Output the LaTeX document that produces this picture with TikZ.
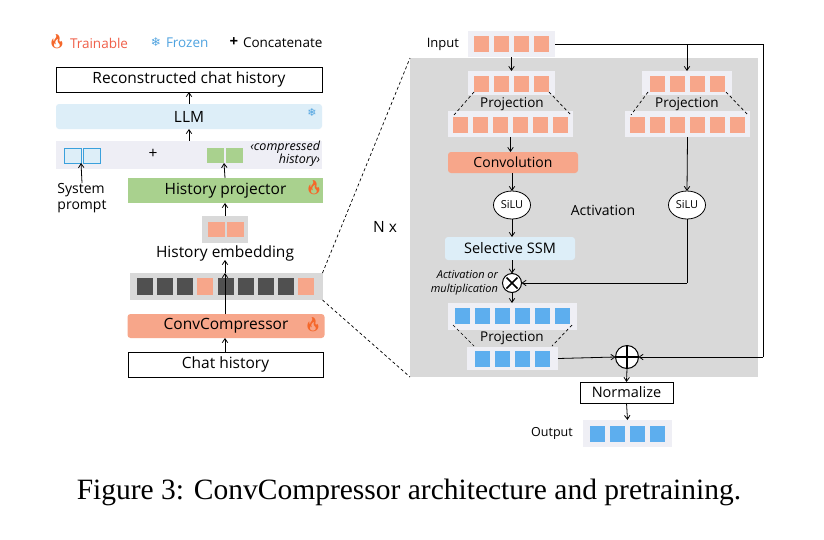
\documentclass[tikz,border=0pt]{standalone}
\usepackage{fontspec}
\setmainfont{Open Sans}
\newfontfamily\capfont{Liberation Serif}
\newfontfamily\emojifont{Noto Emoji}
\newfontfamily\symfont{DejaVu Sans}
\usetikzlibrary{arrows.meta,calc,shapes.geometric}
\definecolor{salmon}{HTML}{F7A68A}
\definecolor{lblue}{HTML}{DDEEF8}
\definecolor{band}{HTML}{EEEEF5}
\definecolor{pgreen}{HTML}{A9D18E}
\definecolor{sblue}{HTML}{5DAEEE}
\definecolor{oblue}{HTML}{3AA0DC}
\definecolor{boxgray}{HTML}{D9D9D9}
\definecolor{rowbg}{HTML}{EFEFF5}
\definecolor{dark}{HTML}{505050}
\definecolor{fire}{HTML}{F5672A}
\definecolor{trainred}{HTML}{F0604A}
\definecolor{frozblue}{HTML}{4FA3E0}
\newcommand{\flameicon}{{\emojifont\color{fire}\char"1F525}}
\newcommand{\snowicon}{{\symfont\color{frozblue}\char"2744}}
\begin{document}
\begin{tikzpicture}[x=1pt,y=-1pt,
  every node/.style={inner sep=0pt,outer sep=0pt},
  arr/.style={-{Straight Barb[length=4pt,width=5.5pt]},line width=0.8pt},
  ln/.style={line width=0.8pt},
  dsh/.style={dashed,line width=0.7pt,dash pattern=on 3pt off 2.5pt},
  lbl/.style={font=\fontsize{15.5}{17}\selectfont},
  slbl/.style={font=\fontsize{13.5}{15}\selectfont},
  wbox/.style={draw,line width=0.8pt,fill=white},
  rowbox/.style={fill=rowbg},
  sq/.style={minimum width=15pt,minimum height=16pt},
  icon/.style={font=\fontsize{14}{15}\selectfont}
]
\useasboundingbox (0,0) rectangle (824,539);
\fill[white] (0,0) rectangle (824,539);

% ---------------- Legend ----------------
\node[icon] (flameL) at (57,42) {\flameicon};
\node[anchor=west,font=\fontsize{13.5}{15}\selectfont,text=trainred] (train) at (70,43) {Trainable};
\node[icon,font=\fontsize{12}{13}\selectfont] (snowL) at (156,42) {\snowicon};
\node[anchor=west,font=\fontsize{13.5}{15}\selectfont,text=frozblue] (froz) at (166,43) {Frozen};
\node[font=\fontsize{15}{15}\selectfont\bfseries] (plusL) at (234,42) {+};
\node[anchor=west,font=\fontsize{13.5}{15}\selectfont] (concat) at (243,43) {Concatenate};

% ---------------- Left column ----------------
\node[wbox,minimum width=266pt,minimum height=25pt,lbl] (recon) at (189,79.5) {Reconstructed chat history};
\node[fill=lblue,rounded corners=3pt,minimum width=266pt,minimum height=25pt,lbl] (llm) at (189,116.5) {LLM};
\node[font=\fontsize{11}{12}\selectfont] (snowLLM) at (312,112) {\snowicon};
\node[fill=band,minimum width=266pt,minimum height=28pt] (band) at (189,154.5) {};
\node[draw=oblue,fill=lblue,line width=0.9pt,minimum width=17pt,minimum height=15pt] (sp1) at (72.5,155.5) {};
\node[draw=oblue,fill=lblue,line width=0.9pt,minimum width=17pt,minimum height=15pt] (sp2) at (91.5,155.5) {};
\node[lbl] (plusC) at (153,154) {+};
\node[fill=pgreen,minimum width=17pt,minimum height=15pt] (gh1) at (215.5,155.5) {};
\node[fill=pgreen,minimum width=17pt,minimum height=15pt] (gh2) at (234.5,155.5) {};
\node[anchor=north east,align=right,font=\fontsize{12.5}{13}\selectfont\itshape] (comph) at (320,140.5) {‹compressed\\history›};
\node[anchor=north,align=left,font=\fontsize{14}{16}\selectfont] (sysp) at (82,183) {System\\prompt};
\node[fill=pgreen,minimum width=195pt,minimum height=25pt,lbl] (proj) at (225.5,190.5) {History projector};
\node[icon] (flameP) at (314,188) {\flameicon};
\node[fill=boxgray,minimum width=46pt,minimum height=27pt] (hebox) at (225,229) {};
\node[fill=salmon,minimum width=17pt,minimum height=15pt] (he1) at (216,229.5) {};
\node[fill=salmon,minimum width=17pt,minimum height=15pt] (he2) at (235,229.5) {};
\node[lbl] (hetext) at (225,253) {History embedding};
\node[fill=boxgray,minimum width=193pt,minimum height=27pt] (bar) at (226,286.5) {};
\foreach \i/\c in {1/dark,2/dark,3/dark,4/salmon,5/dark,6/dark,7/dark,8/dark,9/salmon}{
  \node[fill=\c,minimum width=16pt,minimum height=17pt] (b\i) at ({145+20*(\i-1)+(\i>4?0.5:0)},286.5) {};
}
\node[fill=salmon,rounded corners=3pt,minimum width=197pt,minimum height=24pt,lbl] (cc) at (226,326) {ConvCompressor};
\node[icon] (flameC) at (313,325) {\flameicon};
\node[wbox,minimum width=195pt,minimum height=25pt,lbl] (chat) at (225.5,364.5) {Chat history};

\draw[arr] (chat.north -| hebox) -- (cc.south -| hebox);
\draw[arr] (cc.north -| hebox) -- (bar.north -| hebox);
\coordinate (hetip) at (225,260);
\draw[arr] (bar.north -| hebox) -- (hetip);
\draw[arr] (hebox.north) -- (proj.south -| hebox);
\draw[arr] (proj.north -| hebox) -- (gh1.south east);
\draw[arr] (sysp.north) -- (sp1.south east);
\draw[arr] (band.north -| recon) -- (llm.south);
\draw[arr] (llm.north) -- (recon.south);

% ---------------- Right block ----------------
\node[fill=boxgray,minimum width=348pt,minimum height=319pt] (big) at (584,217.5) {};
\draw[dsh] (bar.north east) -- (big.north west);
\draw[dsh] (bar.south east) -- (big.south west);
\node[lbl] (nx) at (385,227) {N x};

% Input
\node[font=\fontsize{13}{15}\selectfont,anchor=east] (inlbl) at (459,44) {Input};
\node[rowbox,minimum width=87pt,minimum height=26pt] (inbox) at (511.5,44) {};
\foreach \i in {1,2,3,4}{\node[sq,fill=salmon] (in\i) at ({481.5+20*(\i-1)},44) {};}

% Left projection
\node[rowbox,minimum width=87pt,minimum height=24pt] (lpt) at (511.5,83) {};
\foreach \i in {1,2,3,4}{\node[sq,fill=salmon] (lpt\i) at ({481.5+20*(\i-1)},84) {};}
\node[rowbox,minimum width=125pt,minimum height=26pt] (lpb) at (510.5,124) {};
\foreach \i in {1,...,6}{\node[sq,fill=salmon] (lpb\i) at ({460.5+20*(\i-1)},125) {};}
\node[slbl] (lptext) at (512,104) {Projection};
\draw[dsh] ([shift={(6,-3)}]lpt.south west) -- ([shift={(6,4)}]lpb.north west);
\draw[dsh] ([shift={(-6,-3)}]lpt.south east) -- ([shift={(-2,4)}]lpb.north east);

% Right projection
\node[rowbox,minimum width=90pt,minimum height=24pt] (rpt) at (687,83) {};
\foreach \i in {1,2,3,4}{\node[sq,fill=salmon] (rpt\i) at ({657+20*(\i-1)},84) {};}
\node[rowbox,minimum width=125pt,minimum height=26pt] (rpb) at (687.5,124) {};
\foreach \i in {1,...,6}{\node[sq,fill=salmon] (rpb\i) at ({637.5+20*(\i-1)},125) {};}
\node[slbl] (rptext) at (687,104) {Projection};
\draw[dsh] ([shift={(6,-3)}]rpt.south west) -- ([shift={(6,4)}]rpb.north west);
\draw[dsh] ([shift={(-6,-3)}]rpt.south east) -- ([shift={(-2,4)}]rpb.north east);

% Convolution etc.
\node[fill=salmon,rounded corners=3pt,minimum width=130pt,minimum height=21pt,font=\fontsize{14}{15}\selectfont] (conv) at (513,162.5) {Convolution};
\node[draw,fill=white,ellipse,line width=0.8pt,minimum width=37pt,minimum height=28pt,font=\fontsize{11}{12}\selectfont] (silu1) at (512,205) {SiLU};
\node[draw,fill=white,ellipse,line width=0.8pt,minimum width=37pt,minimum height=28pt,font=\fontsize{11}{12}\selectfont] (silu2) at (687,205) {SiLU};
\node[font=\fontsize{14}{15}\selectfont] (act) at (603,210) {Activation};
\node[fill=lblue,rounded corners=3pt,minimum width=130pt,minimum height=23pt,font=\fontsize{14.5}{16}\selectfont] (ssm) at (510,248.5) {Selective SSM};
\node[draw,circle,fill=white,line width=1pt,minimum size=19pt] (mul) at (512,283) {};
\draw[line width=1.6pt] ($(mul.center)+(-5.5,-5.5)$) -- ($(mul.center)+(5.5,5.5)$);
\draw[line width=1.6pt] ($(mul.center)+(-5.5,5.5)$) -- ($(mul.center)+(5.5,-5.5)$);
\node[anchor=east,align=right,font=\fontsize{11}{13.5}\selectfont\itshape] (actmul) at (498,283) {Activation or\\multiplication};

% Bottom projection (blue)
\node[rowbox,minimum width=129pt,minimum height=27pt] (bpt) at (512.5,316.5) {};
\foreach \i in {1,...,6}{\node[sq,fill=sblue] (bpt\i) at ({462.5+20*(\i-1)},315.5) {};}
\node[rowbox,minimum width=91pt,minimum height=23pt] (bpb) at (512.5,358.5) {};
\foreach \i in {1,2,3,4}{\node[sq,fill=sblue] (bpb\i) at ({482.5+20*(\i-1)},358.5) {};}
\node[slbl] (bptext) at (512,338) {Projection};
\draw[dsh] ([shift={(5,-5)}]bpt.south west) -- ([shift={(7,-1)}]bpb.north west);
\draw[dsh] ([shift={(-5,-5)}]bpt.south east) -- ([shift={(-6,-1)}]bpb.north east);

% Add / normalize / output
\node[draw,circle,fill=white,line width=1pt,minimum size=23pt] (add) at (627,357) {};
\draw[line width=1.6pt] (add.north) -- (add.south);
\draw[line width=1.6pt] (add.west) -- (add.east);
\node[wbox,minimum width=93pt,minimum height=21pt,font=\fontsize{14.5}{16}\selectfont] (norm) at (626.5,392.5) {Normalize};
\node[font=\fontsize{12.5}{14}\selectfont] (outlbl) at (552,433) {Output};
\node[rowbox,minimum width=89pt,minimum height=27pt] (outbox) at (627.5,433.5) {};
\foreach \i in {1,2,3,4}{\node[sq,fill=sblue] (out\i) at ({597.5+20*(\i-1)},433.5) {};}

% connectors right
\coordinate (rtop) at (763,44);
\coordinate (rbot) at (763,357);
\coordinate (rjoin) at (687,283);
\draw[ln] (inbox.east) -- (rtop) -- (rbot);
\draw[arr] (rbot) -- (add.east);
\draw[arr] (inbox.south) -- (lpt.north);
\draw[arr] (rpt.north |- inbox.east) -- (rpt.north);
\draw[arr] (lpb.south) -- (conv.north -| lpb.south);
\draw[arr] (conv.south -| silu1) -- (silu1.north);
\draw[arr] (silu1.south) -- (ssm.north -| silu1);
\draw[arr] (ssm.south -| mul) -- (mul.north);
\draw[arr] (mul.south) -- (bpt.north -| mul);
\draw[arr] (rpb.south) -- (silu2.north);
\draw[ln] (silu2.south) -- (rjoin);
\draw[arr] (rjoin) -- (mul.east);
\draw[arr] (bpb.east) -- (add.west);
\draw[arr] (add.south) -- (norm.north);
\draw[arr] (norm.south) -- (outbox.north);

% Caption
\node[font=\capfont\fontsize{29.5}{32}\selectfont] (cap) at (409,492) {Figure 3: ConvCompressor architecture and pretraining.};
\end{tikzpicture}
\end{document}
